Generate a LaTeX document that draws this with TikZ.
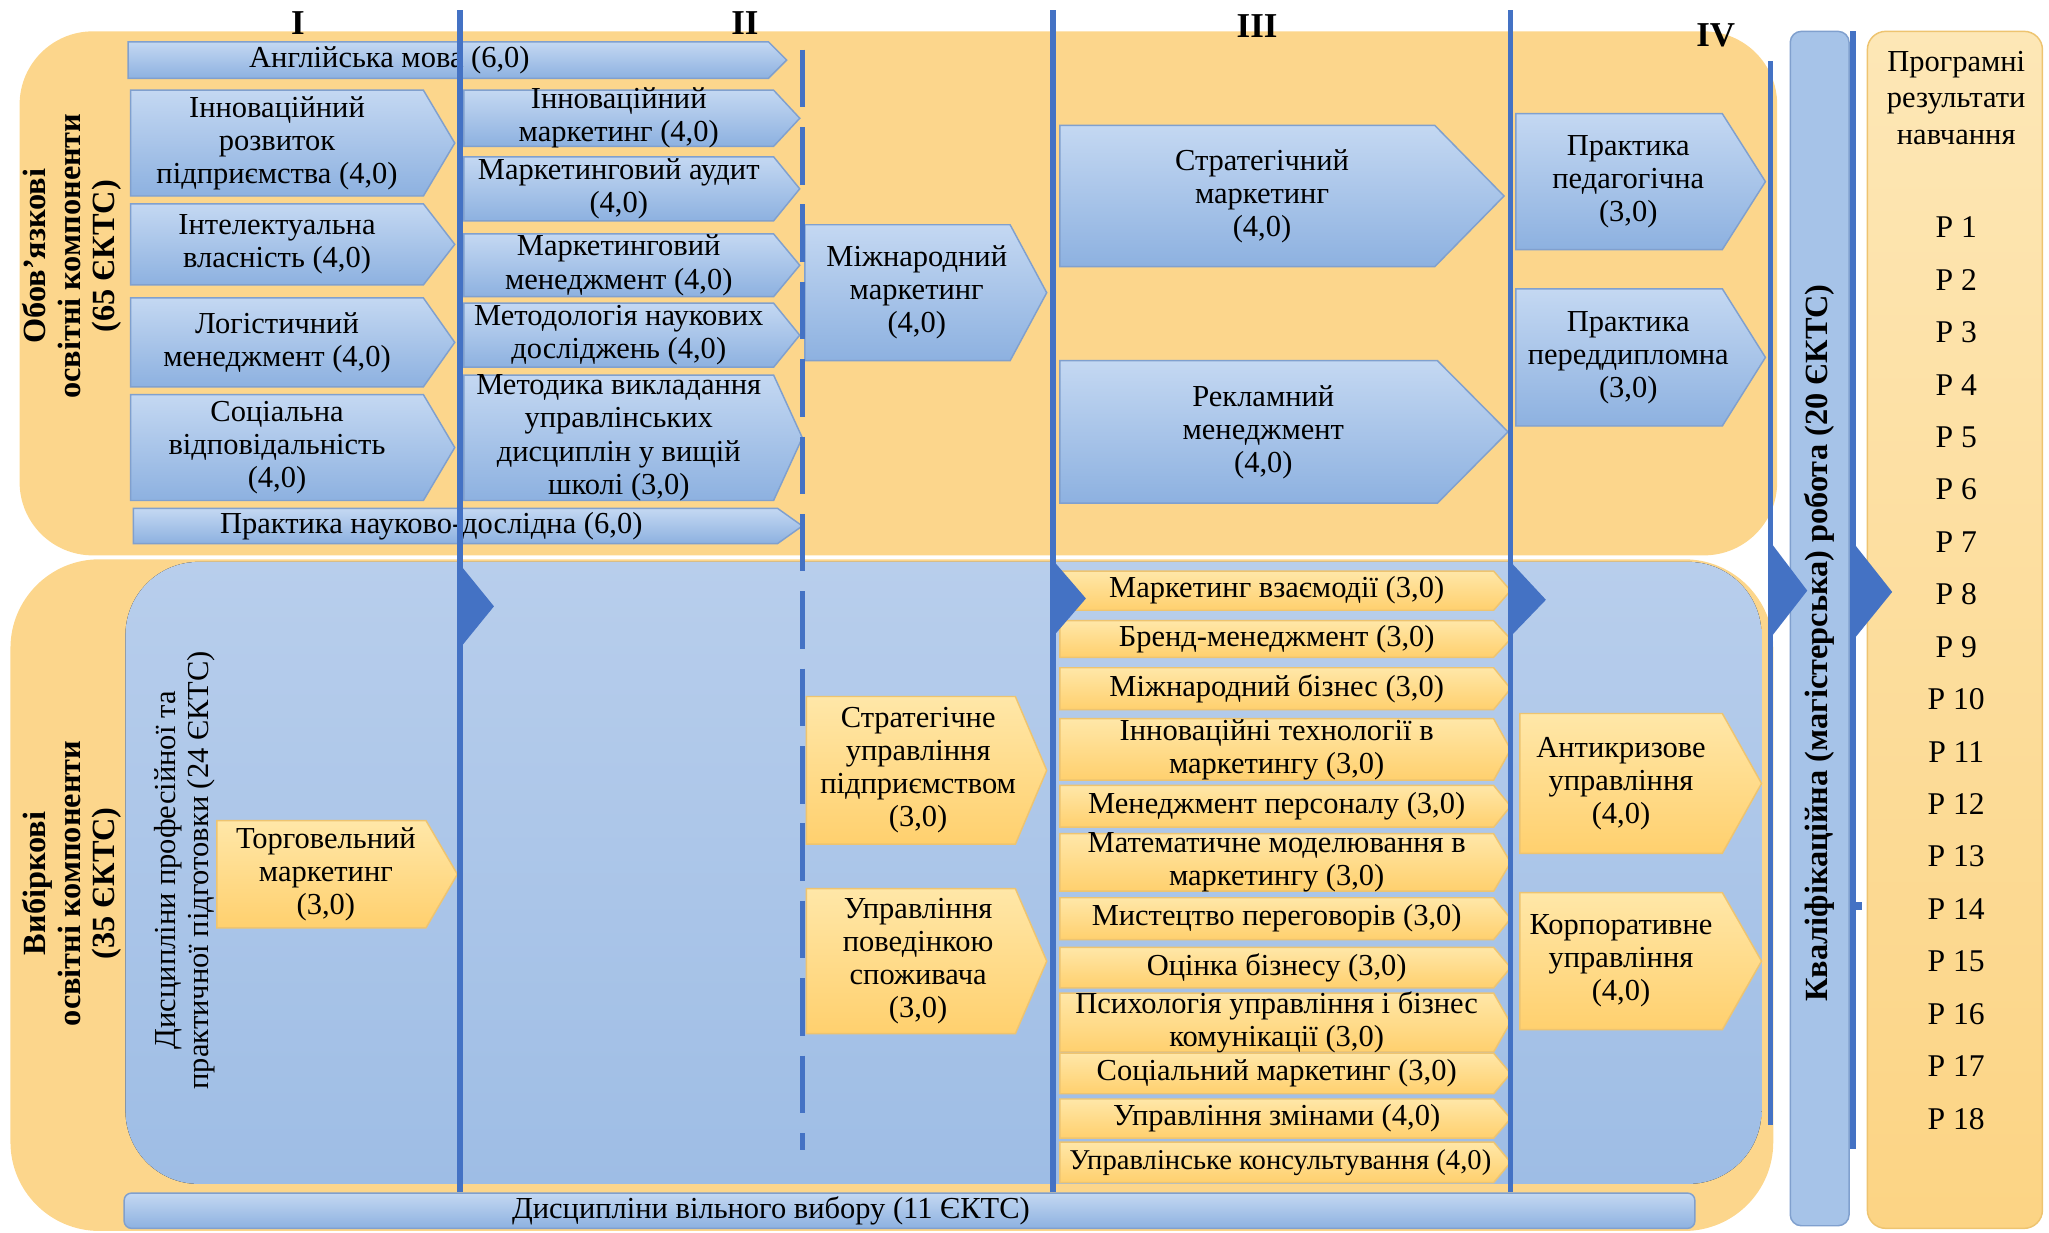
\documentclass[tikz,border=0pt]{standalone}
\usepackage{fontspec}
\setmainfont{Liberation Serif}
\usetikzlibrary{shapes.symbols, positioning, fit, chains}

\definecolor{stageBlue}{RGB}{68,114,196}
\definecolor{regionOrange}{RGB}{252,214,140}
\definecolor{regionBlueTop}{RGB}{184,206,236}
\definecolor{regionBlueBot}{RGB}{158,189,229}
\definecolor{boxBlueTop}{RGB}{196,216,242}
\definecolor{boxBlueBot}{RGB}{141,177,224}
\definecolor{boxBlueLine}{RGB}{128,160,206}
\definecolor{boxOrangeTop}{RGB}{255,231,168}
\definecolor{boxOrangeBot}{RGB}{255,208,110}
\definecolor{boxOrangeLine}{RGB}{238,196,112}
\definecolor{thesisBlue}{RGB}{166,195,232}
\definecolor{outcomeTop}{RGB}{253,231,182}
\definecolor{outcomeBot}{RGB}{252,212,132}

\tikzstyle{lbl} = [align=center, font=\fontsize{8.3}{9}\selectfont]
\tikzstyle{course} = [signal, signal to=east, inner sep=0pt]
\tikzstyle{core} = [course, draw=boxBlueLine, top color=boxBlueTop, bottom color=boxBlueBot]
\tikzstyle{elective} = [course, draw=boxOrangeLine, top color=boxOrangeTop, bottom color=boxOrangeBot]
\tikzstyle{stageLine} = [line width=1.5pt, draw=stageBlue]
\tikzstyle{groupLabel} = [rotate=90, align=center, font=\bfseries\fontsize{8.8}{9.4}\selectfont]

\begin{document}
\begin{tikzpicture}[x=0.0125cm, y=-0.0125cm, start chain=results going below]
        \useasboundingbox (0,0) rectangle (1568,943);
        \tikzstyle{numeral} = [font=\bfseries\fontsize{9.5}{10}\selectfont]
        \tikzstyle{result} = [lbl, font=\fontsize{8.6}{9}\selectfont, on chain=results]

        % background areas
        \fill[regionOrange, rounded corners=0.7cm] (15,24) rectangle (1360,425);
        \fill[regionOrange, rounded corners=0.85cm] (8,428) rectangle (1357,942);
        \fill[top color=regionBlueTop, bottom color=regionBlueBot, rounded corners=0.7cm] (96,430) rectangle (1348,906);

        \node[groupLabel] (obligLabel) at (55,196) {Обов’язкові\\освітні компоненти\\(65 ЄКТС)};
        \node[groupLabel] (electLabel) at (55,676) {Вибіркові\\освітні компоненти\\(35 ЄКТС)};
        \node[lbl, rotate=90] (profLabel) at (141,666) {Дисципліни професійної та\\практичної підготовки (24 ЄКТС)};

        \node[numeral] (stageOne) at (228,18) {I};
        \node[numeral] (stageTwo) at (570,18) {II};
        \node[numeral] (stageThree) at (962,20) {III};
        \node[numeral] (stageFour) at (1313,27) {IV};

        % obligatory courses
        \node[core, signal pointer angle=90, fit={(98,32) (588,60)}] (english) {};
        \node[lbl] (englishText) at (298,46) {Англійська мова (6,0)};
        \node[core, signal pointer angle=118.7, fit={(100,69) (324,150)}, label={[lbl]center:Інноваційний\\розвиток\\підприємства (4,0)}] (innovDev) {};
        \node[core, signal pointer angle=104.5, fit={(100,156) (324,218)}, label={[lbl]center:Інтелектуальна\\власність (4,0)}] (intellProp) {};
        \node[core, signal pointer angle=109.6, fit={(100,228) (324,296)}, label={[lbl]center:Логістичний\\менеджмент (4,0)}] (logistics) {};
        \node[core, signal pointer angle=118.7, fit={(100,302) (324,383)}, label={[lbl]center:Соціальна\\відповідальність\\(4,0)}] (socialResp) {};

        \node[core, signal pointer angle=94.1, fit={(355,69) (592,112)}, label={[lbl]center:Інноваційний\\маркетинг (4,0)}] (innovMkt) {};
        \node[core, signal pointer angle=101.6, fit={(355,120) (592,169)}, label={[lbl]center:Маркетинговий аудит\\(4,0)}] (mktAudit) {};
        \node[core, signal pointer angle=100.4, fit={(355,179) (592,227)}, label={[lbl]center:Маркетинговий\\менеджмент (4,0)}] (mktMgmt) {};
        \node[core, signal pointer angle=101.6, fit={(355,232) (592,281)}, label={[lbl]center:Методологія наукових\\досліджень (4,0)}] (resMethod) {};
        \node[core, signal pointer angle=130.8, fit={(355,287) (592,383)}, label={[lbl]center:Методика викладання\\управлінських\\дисциплін у вищій\\школі (3,0)}] (teaching) {};
        \node[core, signal pointer angle=70.8, fit={(102,389) (595,416)}] (research) {};
        \node[lbl] (researchText) at (330,403) {Практика науково-дослідна (6,0)};

        \node[core, signal pointer angle=123.4, fit={(616,172) (773,276)}, label={[lbl, xshift=2.5pt]center:Міжнародний\\маркетинг\\(4,0)}] (intMkt) {};
        \node[core, signal pointer angle=91.1, fit={(811,96) (1098,204)}, label={[lbl, xshift=4pt]center:Стратегічний\\маркетинг\\(4,0)}] (stratMkt) {};
        \node[core, signal pointer angle=90.5, fit={(811,276) (1100,385)}, label={[lbl, xshift=4pt]center:Рекламний\\менеджмент\\(4,0)}] (adMgmt) {};
        \node[core, signal pointer angle=115.2, fit={(1160,87) (1318,191)}, label={[lbl, xshift=2.5pt]center:Практика\\педагогічна\\(3,0)}] (pedPractice) {};
        \node[core, signal pointer angle=115.7, fit={(1160,221) (1318,326)}, label={[lbl, xshift=2.5pt]center:Практика\\переддипломна\\(3,0)}] (prePractice) {};

        % elective courses
        \node[elective, signal pointer angle=119.3, fit={(166,628) (326,710)}, label={[lbl, xshift=1.2pt]center:Торговельний\\маркетинг\\(3,0)}] (tradeMkt) {};
        \node[elective, signal pointer angle=134, fit={(617,533) (777,646)}, label={[lbl, xshift=2pt]center:Стратегічне\\управління\\підприємством\\(3,0)}] (stratMgmt) {};
        \node[elective, signal pointer angle=133.2, fit={(617,680) (777,791)}, label={[lbl, xshift=2pt]center:Управління\\поведінкою\\споживача\\(3,0)}] (consumer) {};

        \node[elective, signal pointer angle=98.2, fit={(811,437) (1143,467)}, label={[lbl]center:Маркетинг взаємодії (3,0)}] (interact) {};
        \node[elective, signal pointer angle=94.2, fit={(811,475) (1143,503)}, label={[lbl]center:Бренд-менеджмент (3,0)}] (brand) {};
        \node[elective, signal pointer angle=101.8, fit={(811,511) (1143,543)}, label={[lbl]center:Міжнародний бізнес (3,0)}] (intBusiness) {};
        \node[elective, signal pointer angle=122.1, fit={(811,550) (1143,597)}, label={[lbl]center:Інноваційні технології в\\маркетингу (3,0)}] (innovTech) {};
        \node[elective, signal pointer angle=101.8, fit={(811,601) (1143,633)}, label={[lbl]center:Менеджмент персоналу (3,0)}] (personnel) {};
        \node[elective, signal pointer angle=118.8, fit={(811,638) (1143,682)}, label={[lbl]center:Математичне моделювання в\\маркетингу (3,0)}] (modelling) {};
        \node[elective, signal pointer angle=101.8, fit={(811,687) (1143,719)}, label={[lbl]center:Мистецтво переговорів (3,0)}] (negotiation) {};
        \node[elective, signal pointer angle=100, fit={(811,725) (1143,756)}, label={[lbl]center:Оцінка бізнесу (3,0)}] (valuation) {};
        \node[elective, signal pointer angle=120.9, fit={(811,760) (1143,805)}, label={[lbl]center:Психологія управління і бізнес\\комунікації (3,0)}] (psychology) {};
        \node[elective, signal pointer angle=100, fit={(811,806) (1143,837)}, label={[lbl]center:Соціальний маркетинг (3,0)}] (socialMkt) {};
        \node[elective, signal pointer angle=98.2, fit={(811,841) (1143,871)}, label={[lbl]center:Управління змінами (4,0)}] (change) {};
        \node[elective, signal pointer angle=100, fit={(811,874) (1143,905)}, label={[lbl, font=\fontsize{7.8}{9}\selectfont, xshift=1pt]center:Управлінське консультування (4,0)}] (consulting) {};

        \node[elective, signal pointer angle=121.4, fit={(1163,546) (1318,653)}, label={[lbl]center:Антикризове\\управління\\(4,0)}] (antiCrisis) {};
        \node[elective, signal pointer angle=120.5, fit={(1163,683) (1318,788)}, label={[lbl]center:Корпоративне\\управління\\(4,0)}] (corporate) {};

        \node[fit={(95,913) (1297,940)}, inner sep=0pt, rounded corners=2pt, draw=boxBlueLine, top color=boxBlueTop, bottom color=boxBlueBot] (freeChoice) {};
        \node[lbl] (freeChoiceText) at (590,927) {Дисципліни вільного вибору (11 ЄКТС)};

        % thesis and outcomes
        \node[fit={(1370,24) (1415,938)}, inner sep=0pt, rounded corners=3pt, draw=boxBlueLine, fill=thesisBlue] (thesis) {};
        \node[groupLabel] (thesisText) at (1392,492) {Кваліфікаційна (магістерська) робота (20 ЄКТС)};
        \node[fit={(1429,24) (1563,940)}, inner sep=0pt, rounded corners=5pt, draw=boxOrangeLine, top color=outcomeTop, bottom color=outcomeBot] (outcomes) {};
        \node[lbl, font=\fontsize{8.3}{10}\selectfont] (outcomesText) at (1497,75) {Програмні\\результати\\навчання};

        \begin{scope}[node distance=0.5015cm, on grid]
        \node[result] (r1) at (1497,174) {Р 1};
        \node[result] (r2) {Р 2};
        \node[result] (r3) {Р 3};
        \node[result] (r4) {Р 4};
        \node[result] (r5) {Р 5};
        \node[result] (r6) {Р 6};
        \node[result] (r7) {Р 7};
        \node[result] (r8) {Р 8};
        \node[result] (r9) {Р 9};
        \node[result] (r10) {Р 10};
        \node[result] (r11) {Р 11};
        \node[result] (r12) {Р 12};
        \node[result] (r13) {Р 13};
        \node[result] (r14) {Р 14};
        \node[result] (r15) {Р 15};
        \node[result] (r16) {Р 16};
        \node[result] (r17) {Р 17};
        \node[result] (r18) {Р 18};
        \end{scope}

        % stage separators
        \draw[stageLine] (352,8) -- (352,912);
        \draw[stageLine] (806,8) -- (806,912);
        \draw[stageLine] (1156,8) -- (1156,912);
        \draw[stageLine, dash pattern=on 0.55cm off 0.19cm] (614,38) -- (614,880);
        \draw[stageLine] (1355,47) -- (1355,861);
        \draw[stageLine] (1418,24) -- (1418,879);

        \fill[stageBlue] (352,432) -- (378,464) -- (352,496) -- cycle;
        \fill[stageBlue] (806,429) -- (831,458) -- (806,487) -- cycle;
        \fill[stageBlue] (1156,430) -- (1183,459) -- (1156,487) -- cycle;
        \fill[stageBlue] (1355,415) -- (1383,452) -- (1355,488) -- cycle;
        \fill[stageBlue] (1418,415) -- (1448,453) -- (1418,490) -- cycle;
        \fill[stageBlue] (1418,690) rectangle (1425,696);

    \end{tikzpicture}
\end{document}
